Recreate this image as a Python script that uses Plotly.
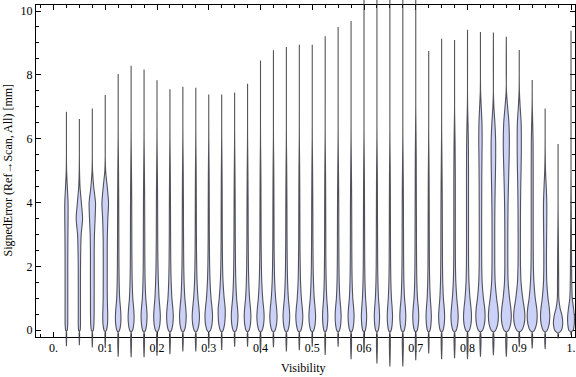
import plotly.graph_objects as go

# ---------------- data ----------------
VISIBILITY = [0.025, 0.05, 0.075, 0.1, 0.125, 0.15, 0.175, 0.2, 0.225, 0.25,
              0.275, 0.3, 0.325, 0.35, 0.375, 0.4, 0.425, 0.45, 0.475, 0.5,
              0.525, 0.55, 0.575, 0.6, 0.625, 0.65, 0.675, 0.7, 0.725, 0.75,
              0.775, 0.8, 0.825, 0.85, 0.875, 0.9, 0.925, 0.95, 0.975, 1.0]

ERR_MAX = [6.85, 6.62, 6.95, 7.37, 8.03, 8.29, 8.17, 7.83, 7.55, 7.63,
           7.60, 7.39, 7.39, 7.45, 7.72, 8.45, 8.77, 8.87, 8.94, 8.94,
           9.21, 9.50, 9.69, 10.40, 10.60, 10.60, 10.60, 10.60, 8.75, 9.13,
           9.09, 9.41, 9.34, 9.33, 9.19, 8.78, 7.84, 6.95, 5.84, 9.38]

ERR_MIN = [-0.49, -0.46, -0.53, -0.55, -0.82, -0.84, -0.84, -0.79, -0.74, -0.66,
           -0.66, -0.56, -0.61, -0.51, -0.51, -0.71, -0.52, -0.66, -0.62, -0.51,
           -0.77, -0.51, -0.90, -0.70, -1.03, -1.13, -1.13, -0.93, -0.72, -0.90,
           -0.87, -0.90, -0.82, -0.77, -0.82, -0.51, -0.56, -0.58, -0.25, -0.14]

# lower end of the density body (density ~ 0 below)
BODY_START = [-0.03, -0.03, -0.03, -0.04, -0.06, -0.06, -0.06, -0.06, -0.06, -0.06,
              -0.06, -0.06, -0.06, -0.06, -0.06, -0.06, -0.06, -0.06, -0.06, -0.06,
              -0.06, -0.06, -0.06, -0.06, -0.06, -0.06, -0.06, -0.06, -0.06, -0.06,
              -0.06, -0.06, -0.06, -0.06, -0.06, -0.06, -0.06, -0.07, -0.10, -0.05]

# error levels at which the density (violin width) was read
ERR_LEVELS = [0.0, 0.2, 0.45, 0.7, 1.0, 1.5, 2.0, 2.5, 3.0, 3.5,
              4.0, 4.5, 5.0, 5.5, 6.0, 6.5, 7.0, 7.5]

# relative density (violin width) at each level, one row per visibility bin
DENSITY = [
    [1.5, 2.6, 2.7, 2.7, 2.7, 2.7, 2.7, 2.8, 3.0, 3.3, 3.3, 1.8, 0.4, 0, 0, 0, 0, 0],
    [1.5, 2.2, 2.2, 2.2, 2.2, 2.2, 2.3, 2.7, 3.6, 6.4, 4.0, 1.3, 0.3, 0, 0, 0, 0, 0],
    [1.8, 3.2, 3.6, 3.7, 3.7, 3.8, 3.8, 3.8, 4.3, 5.6, 6.4, 2.8, 0.5, 0, 0, 0, 0, 0],
    [2.2, 4.5, 5.0, 4.6, 4.2, 4.0, 4.0, 4.0, 4.3, 5.2, 6.6, 4.0, 0.8, 0, 0, 0, 0, 0],
    [2.6, 5.0, 5.5, 4.6, 3.0, 2.0, 1.6, 1.4, 1.3, 1.2, 1.1, 0.9, 0.7, 0.4, 0.1, 0, 0, 0],
    [2.8, 5.3, 6.0, 5.1, 3.4, 2.2, 1.7, 1.5, 1.4, 1.3, 1.2, 1.0, 0.7, 0.4, 0.1, 0, 0, 0],
    [2.8, 5.2, 6.0, 5.2, 3.5, 2.2, 1.7, 1.5, 1.4, 1.3, 1.2, 1.0, 0.7, 0.4, 0.1, 0, 0, 0],
    [3.0, 5.8, 6.7, 5.8, 4.2, 2.8, 2.0, 1.6, 1.4, 1.3, 1.2, 1.0, 0.7, 0.4, 0.1, 0, 0, 0],
    [3.0, 5.8, 6.7, 5.8, 4.0, 2.5, 1.8, 1.5, 1.3, 1.2, 1.1, 0.9, 0.7, 0.4, 0.1, 0, 0, 0],
    [3.0, 5.8, 6.7, 5.8, 4.0, 2.5, 1.8, 1.5, 1.3, 1.2, 1.1, 0.9, 0.7, 0.4, 0.1, 0, 0, 0],
    [3.2, 6.3, 7.3, 6.3, 4.4, 2.6, 1.8, 1.4, 1.2, 1.1, 1.0, 0.9, 0.7, 0.4, 0.1, 0, 0, 0],
    [3.3, 6.6, 7.6, 6.6, 4.6, 2.7, 1.8, 1.4, 1.2, 1.1, 1.0, 0.9, 0.7, 0.4, 0.1, 0, 0, 0],
    [2.8, 5.8, 7.0, 7.0, 5.0, 2.8, 1.8, 1.4, 1.2, 1.1, 1.0, 0.9, 0.7, 0.4, 0.1, 0, 0, 0],
    [3.0, 5.8, 6.7, 5.8, 4.0, 2.5, 1.8, 1.5, 1.3, 1.2, 1.1, 0.9, 0.7, 0.4, 0.1, 0, 0, 0],
    [3.0, 5.8, 6.7, 5.8, 4.0, 2.5, 1.8, 1.5, 1.3, 1.2, 1.1, 0.9, 0.7, 0.4, 0.1, 0, 0, 0],
    [3.2, 6.3, 7.3, 6.3, 4.4, 2.6, 1.8, 1.4, 1.2, 1.1, 1.0, 0.9, 0.7, 0.4, 0.1, 0, 0, 0],
    [3.2, 6.3, 7.3, 6.3, 4.4, 2.6, 1.8, 1.4, 1.2, 1.1, 1.0, 0.9, 0.7, 0.4, 0.1, 0, 0, 0],
    [3.0, 5.8, 6.7, 5.8, 4.0, 2.5, 1.8, 1.5, 1.3, 1.2, 1.1, 0.9, 0.7, 0.4, 0.1, 0, 0, 0],
    [3.1, 6.0, 7.0, 6.0, 4.2, 2.5, 1.8, 1.4, 1.2, 1.1, 1.0, 0.9, 0.7, 0.4, 0.1, 0, 0, 0],
    [3.0, 5.8, 6.7, 5.8, 4.0, 2.5, 1.8, 1.5, 1.3, 1.2, 1.1, 0.9, 0.7, 0.4, 0.1, 0, 0, 0],
    [2.5, 4.6, 5.3, 4.6, 3.2, 2.0, 1.5, 1.3, 1.2, 1.1, 1.0, 0.9, 0.7, 0.4, 0.1, 0, 0, 0],
    [2.8, 5.2, 6.0, 5.2, 3.5, 2.2, 1.7, 1.5, 1.4, 1.3, 1.2, 1.0, 0.7, 0.4, 0.1, 0, 0, 0],
    [2.8, 5.2, 6.0, 5.2, 3.5, 2.2, 1.7, 1.5, 1.4, 1.3, 1.2, 1.0, 0.7, 0.4, 0.1, 0, 0, 0],
    [2.5, 4.6, 5.3, 4.6, 3.2, 2.0, 1.5, 1.3, 1.2, 1.1, 1.0, 0.9, 0.7, 0.4, 0.1, 0, 0, 0],
    [2.5, 4.6, 5.3, 4.6, 3.2, 2.0, 1.5, 1.3, 1.2, 1.1, 1.0, 0.9, 0.7, 0.4, 0.1, 0, 0, 0],
    [2.5, 4.6, 5.3, 4.6, 3.2, 2.0, 1.5, 1.3, 1.2, 1.1, 1.0, 0.9, 0.7, 0.4, 0.1, 0, 0, 0],
    [2.8, 5.2, 6.0, 5.2, 3.5, 2.2, 1.7, 1.5, 1.4, 1.3, 1.2, 1.0, 0.7, 0.4, 0.1, 0, 0, 0],
    [2.8, 5.2, 6.0, 5.2, 3.5, 2.2, 1.7, 1.5, 1.4, 1.3, 1.2, 1.1, 1.0, 0.9, 0.6, 0.3, 0, 0],
    [2.5, 4.6, 5.3, 4.6, 3.2, 2.0, 1.5, 1.3, 1.2, 1.1, 1.0, 0.9, 0.7, 0.4, 0.1, 0, 0, 0],
    [2.8, 5.2, 6.0, 5.2, 3.6, 2.3, 1.8, 1.6, 1.5, 1.4, 1.3, 1.1, 0.8, 0.5, 0.2, 0, 0, 0],
    [3.2, 6.3, 7.3, 6.3, 4.5, 2.6, 1.8, 1.6, 1.5, 1.5, 1.5, 1.5, 1.4, 1.2, 0.9, 0.4, 0, 0],
    [3.5, 7.0, 8.0, 7.0, 5.0, 3.0, 2.2, 2.0, 2.0, 2.0, 2.0, 2.0, 2.0, 1.9, 1.6, 1.0, 0.3, 0],
    [4.0, 8.0, 9.3, 8.5, 6.0, 3.4, 2.6, 2.4, 2.4, 2.4, 2.5, 2.6, 2.8, 3.1, 3.4, 3.0, 1.6, 0.3],
    [4.3, 8.6, 10.0, 9.0, 6.5, 3.6, 2.8, 2.7, 2.7, 2.8, 3.1, 3.6, 4.2, 4.6, 4.4, 3.0, 1.0, 0],
    [4.3, 8.6, 10.0, 9.0, 6.5, 3.7, 3.0, 3.0, 3.0, 3.2, 3.5, 4.2, 5.0, 5.8, 6.1, 5.2, 2.6, 0.3],
    [4.8, 9.8, 11.3, 10.0, 7.0, 3.6, 2.5, 2.3, 2.3, 2.4, 2.6, 3.0, 3.6, 4.1, 4.2, 3.8, 1.8, 0.3],
    [4.3, 8.6, 10.0, 9.0, 6.2, 3.5, 2.4, 2.1, 2.0, 2.0, 2.0, 2.0, 2.0, 1.9, 1.7, 1.0, 0.2, 0],
    [4.0, 8.0, 9.3, 8.3, 5.8, 3.3, 2.7, 2.7, 3.0, 3.3, 3.3, 2.2, 0.8, 0.2, 0, 0, 0, 0],
    [6.5, 9.3, 8.0, 4.0, 1.5, 1.2, 1.0, 0.8, 0.5, 0.2, 0, 0, 0, 0, 0, 0, 0, 0],
    [4.0, 6.5, 6.7, 5.0, 2.5, 1.5, 1.2, 1.0, 0.8, 0.6, 0.4, 0.2, 0, 0, 0, 0, 0, 0],
]

X_TICKS = [0.0, 0.1, 0.2, 0.3, 0.4, 0.5, 0.6, 0.7, 0.8, 0.9, 1.0]
X_TICK_LABELS = ["0.", "0.1", "0.2", "0.3", "0.4", "0.5", "0.6", "0.7", "0.8", "0.9", "1."]
Y_TICKS = [0, 2, 4, 6, 8, 10]
Y_TICK_LABELS = ["0", "2", "4", "6", "8", "10"]

# ---------------- styling ----------------
WIDTH_SCALE = 1.0 / (2 * 517.5)   # density unit -> half width in x data units
FILL = "rgb(204,209,247)"
EDGE = "rgba(55,55,60,0.85)"
FONT = "Liberation Serif"

fig = go.Figure()

# empty trace so that the framed x/y subplot exists
fig.add_trace(go.Scatter(x=[None], y=[None], xaxis="x", yaxis="y",
                         mode="lines", hoverinfo="skip", showlegend=False))

for i, xc in enumerate(VISIBILITY):
    prof = [(ERR_MIN[i], 0.0), (BODY_START[i], 0.0)]
    for lv, d in zip(ERR_LEVELS, DENSITY[i]):
        if BODY_START[i] < lv < ERR_MAX[i] - 0.1:
            prof.append((lv, d))
    prof.append((ERR_MAX[i], 0.0))
    right_x = [xc + d * WIDTH_SCALE for _, d in prof]
    left_x = [xc - d * WIDTH_SCALE for _, d in reversed(prof)]
    ys = [y for y, _ in prof] + [y for y, _ in reversed(prof)]
    fig.add_trace(go.Scatter(
        x=right_x + left_x, y=ys, mode="lines", fill="toself",
        fillcolor=FILL, line=dict(color=EDGE, width=1.1, shape="spline", smoothing=0.8),
        xaxis="x", yaxis="y2", hoverinfo="skip", showlegend=False))

axis_common = dict(
    showline=True, linecolor="black", linewidth=1, mirror="ticks",
    ticks="inside", tickcolor="black", tickwidth=1, ticklen=5,
    showgrid=False, zeroline=False, automargin=False,
    tickfont=dict(family=FONT, size=12, color="black"),
)

fig.update_layout(
    template="none",
    width=576, height=377,
    margin=dict(l=36, r=1, t=0, b=0, pad=0),
    paper_bgcolor="white", plot_bgcolor="rgba(0,0,0,0)",
    showlegend=False,
    font=dict(family=FONT, size=12, color="black"),
    xaxis=dict(
        domain=[0, 1], range=[-0.0338, 1.0077], anchor="y",
        tickmode="array", tickvals=X_TICKS, ticktext=X_TICK_LABELS,
        minor=dict(dtick=0.025, tick0=0, ticks="inside", ticklen=3,
                   tickcolor="black", tickwidth=1, showgrid=False),
        **axis_common),
    yaxis=dict(
        domain=[0.1061, 0.9875], range=[-0.213, 10.197], anchor="x",
        tickmode="array", tickvals=Y_TICKS, ticktext=Y_TICK_LABELS,
        minor=dict(dtick=0.5, tick0=0, ticks="inside", ticklen=3,
                   tickcolor="black", tickwidth=1, showgrid=False),
        **axis_common),
    yaxis2=dict(domain=[0, 1], range=[-1.4554, 10.344], anchor="x",
                visible=False, showgrid=False, zeroline=False, automargin=False),
    annotations=[
        dict(text="Visibility", xref="paper", yref="paper", x=0.497, y=0.024,
             xanchor="center", yanchor="middle", showarrow=False,
             font=dict(family=FONT, size=12, color="black")),
        dict(text="SignedError (Ref\u2192Scan, All) [mm]", xref="paper", yref="paper",
             x=-0.051, y=0.549, textangle=-90, xanchor="center", yanchor="middle",
             showarrow=False, font=dict(family=FONT, size=12, color="black")),
    ],
)

fig.write_html("out.html")
